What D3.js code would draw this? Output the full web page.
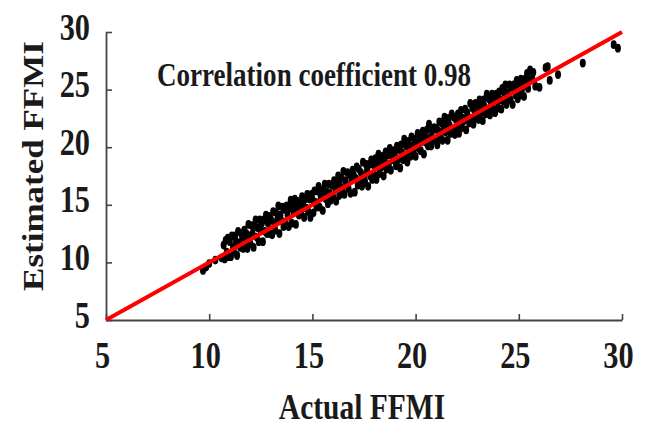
<!DOCTYPE html>
<html>
<head>
<meta charset="utf-8">
<script src="https://cdn.jsdelivr.net/npm/d3@7"></script>
<style>
  body { margin: 0; background: #fff; }
  svg text { font-family: "Liberation Serif", "Times New Roman", serif; font-weight: bold; fill: #1a1a1a; }
</style>
</head>
<body>
<div id="chart"></div>
<script>
// Axis ticks and labels
const xTicks = [5, 10, 15, 20, 25, 30];
const yTicks = [5, 10, 15, 20, 25, 30];
const xTitle = "Actual FFMI";
const yTitle = "Estimated FFMI";
const note = "Correlation coefficient 0.98";

// Identity line (estimated = actual)
const lineX = [5, 30];
const lineY = [5, 30];

// Scatter points
const actualFFMI = [
  9.70, 9.85, 10.00, 10.30, 10.60, 10.70, 10.75, 10.80, 10.85, 10.90, 10.95,
  11.00, 11.05, 11.10, 11.15, 11.20, 11.25, 11.30, 11.35, 11.40, 11.45, 11.50, 11.55, 11.60, 11.65, 11.70, 11.75, 11.80, 11.85, 11.90, 11.95,
  12.00, 12.05, 12.10, 12.15, 12.20, 12.25, 12.30, 12.35, 12.40, 12.45, 12.50, 12.55, 12.60, 12.65, 12.70, 12.75, 12.80, 12.85, 12.90, 12.95,
  13.00, 13.05, 13.10, 13.15, 13.20, 13.25, 13.30, 13.35, 13.40, 13.45, 13.50, 13.55, 13.60, 13.65, 13.70, 13.75, 13.80, 13.85, 13.90, 13.95,
  14.00, 14.05, 14.10, 14.15, 14.20, 14.25, 14.30, 14.35, 14.40, 14.45, 14.50, 14.55, 14.60, 14.65, 14.70, 14.75, 14.80, 14.85, 14.90, 14.95,
  15.00, 15.05, 15.10, 15.15, 15.20, 15.25, 15.30, 15.35, 15.40, 15.45, 15.50, 15.55, 15.60, 15.65, 15.70, 15.75, 15.80, 15.85, 15.90, 15.95,
  16.00, 16.05, 16.10, 16.15, 16.20, 16.25, 16.30, 16.35, 16.40, 16.45, 16.50, 16.55, 16.60, 16.65, 16.70, 16.75, 16.80, 16.85, 16.90, 16.95,
  17.00, 17.05, 17.10, 17.15, 17.20, 17.25, 17.30, 17.35, 17.40, 17.45, 17.50, 17.55, 17.60, 17.65, 17.70, 17.75, 17.80, 17.85, 17.90, 17.95,
  18.00, 18.05, 18.10, 18.15, 18.20, 18.25, 18.30, 18.35, 18.40, 18.45, 18.50, 18.55, 18.60, 18.65, 18.70, 18.75, 18.80, 18.85, 18.90, 18.95,
  19.00, 19.05, 19.10, 19.15, 19.20, 19.25, 19.30, 19.35, 19.40, 19.45, 19.50, 19.55, 19.60, 19.65, 19.70, 19.75, 19.80, 19.85, 19.90, 19.95,
  20.00, 20.05, 20.10, 20.15, 20.20, 20.25, 20.30, 20.35, 20.40, 20.45, 20.50, 20.55, 20.60, 20.65, 20.70, 20.75, 20.80, 20.85, 20.90, 20.95,
  21.00, 21.05, 21.10, 21.15, 21.20, 21.25, 21.30, 21.35, 21.40, 21.45, 21.50, 21.55, 21.60, 21.65, 21.70, 21.75, 21.80, 21.85, 21.90, 21.95,
  22.00, 22.05, 22.10, 22.15, 22.20, 22.25, 22.30, 22.35, 22.40, 22.45, 22.50, 22.55, 22.60, 22.65, 22.70, 22.75, 22.80, 22.85, 22.90, 22.95,
  23.00, 23.05, 23.10, 23.15, 23.20, 23.25, 23.30, 23.35, 23.40, 23.45, 23.50, 23.55, 23.60, 23.65, 23.70, 23.75, 23.80, 23.85, 23.90, 23.95,
  24.00, 24.05, 24.10, 24.15, 24.20, 24.25, 24.30, 24.35, 24.40, 24.45, 24.50, 24.55, 24.60, 24.65, 24.70, 24.75, 24.80, 24.85, 24.90, 24.95,
  25.00, 25.05, 25.10, 25.15, 25.20, 25.25, 25.30, 25.35, 25.40, 25.45,
  25.50, 25.55, 25.65, 25.70, 25.80, 26.00, 26.30, 26.40, 26.50, 26.90, 28.10, 29.60, 29.80
];
const estimatedFFMI = [
  9.3, 9.6, 9.9, 10.2, 10.4, 11.5, 10.3, 11.9, 10.9, 12.1, 10.5,
  11.8, 10.5, 12.3, 11.3, 10.9, 12.3, 11.8, 10.6, 12.7, 11.7, 11.3, 12.5, 12.2, 11.2, 12.8, 11.8, 12.5, 11.2, 13.3, 12.3,
  11.6, 13.2, 12.5, 11.3, 13.1, 13.7, 12.2, 13.0, 11.8, 13.7, 12.8, 13.4, 11.8, 13.7, 12.7, 14.1, 12.5, 13.4, 14.0, 12.5,
  13.7, 12.4, 14.4, 13.4, 12.8, 14.3, 13.7, 14.9, 12.5, 14.1, 13.6, 14.8, 13.1, 14.6, 13.5, 14.9, 14.1, 13.1, 14.7, 15.4,
  13.4, 15.0, 14.3, 15.5, 13.3, 14.8, 15.3, 14.1, 15.1, 14.4, 15.7, 15.0, 13.9, 15.5, 14.7, 15.9, 14.4, 15.5, 13.9, 15.9,
  15.5, 14.3, 16.2, 15.2, 14.8, 16.2, 16.6, 14.8, 15.7, 16.3, 14.5, 16.2, 16.8, 15.5, 16.1, 15.1, 16.8, 16.0, 15.4, 16.7,
  15.7, 17.1, 16.5, 15.3, 16.9, 17.5, 15.8, 16.6, 17.3, 16.4, 17.9, 15.9, 17.1, 16.7, 17.8, 16.4, 17.6, 16.0, 17.2, 18.0,
  17.6, 16.1, 17.3, 18.3, 16.7, 18.1, 17.1, 17.8, 16.6, 18.7, 17.5, 17.0, 18.5, 18.0, 16.6, 18.5, 17.5, 18.9, 17.2, 18.5,
  17.6, 19.0, 17.2, 18.5, 19.4, 17.7, 18.8, 18.3, 19.2, 17.5, 18.7, 19.6, 18.1, 19.3, 18.5, 19.9, 18.0, 19.3, 18.9, 19.7,
  19.3, 18.4, 20.1, 18.9, 19.8, 18.2, 20.2, 19.5, 18.9, 20.7, 19.3, 20.1, 18.7, 20.5, 19.7, 19.2, 20.9, 20.1, 19.5, 20.7,
  19.2, 20.5, 21.2, 19.9, 20.9, 19.7, 20.5, 21.4, 19.4, 21.0, 20.4, 21.5, 20.1, 22.0, 20.8, 20.1, 21.4, 20.7, 21.7, 20.6,
  21.6, 20.2, 21.4, 22.2, 20.8, 22.1, 20.6, 21.5, 22.6, 21.3, 22.0, 20.6, 22.5, 21.9, 21.2, 22.9, 21.5, 22.6, 21.1, 22.4,
  21.7, 22.9, 21.2, 22.6, 23.2, 21.7, 22.5, 22.3, 23.3, 21.5, 23.0, 22.6, 22.1, 23.8, 22.5, 23.4, 22.0, 23.2, 23.8, 22.6,
  23.5, 22.4, 24.1, 23.0, 23.5, 22.3, 24.1, 23.5, 22.9, 24.6, 23.2, 24.2, 22.8, 23.9, 24.6, 23.4, 24.2, 23.0, 24.6, 24.0,
  23.4, 24.8, 24.1, 23.3, 25.1, 24.0, 24.7, 25.4, 23.7, 24.7, 24.3, 25.4, 24.1, 25.2, 23.7, 25.4, 24.9, 24.5, 25.8, 24.2,
  25.3, 24.5, 25.9, 25.0, 25.7, 24.4, 25.9, 25.4, 26.4, 25.1,
  25.8, 26.7, 26.0, 26.5, 25.3, 25.2, 26.9, 27.0, 25.8, 26.3, 27.3, 28.9, 28.6
];

const width = 647;
const height = 429;
const margin = { top: 32, right: 25, bottom: 109, left: 106 };
const squeeze = 0.82; // text in the picture is narrower than it is tall

const svg = d3.select("#chart").append("svg")
    .attr("width", width)
    .attr("height", height);

const x = d3.scaleLinear()
    .domain([5, 30])
    .range([margin.left, width - margin.right]);

const y = d3.scaleLinear()
    .domain([5, 30])
    .range([height - margin.bottom, margin.top]);

// Axes
const xAxis = svg.append("g")
    .attr("transform", `translate(0, ${height - margin.bottom})`)
    .call(d3.axisBottom(x).tickValues(xTicks).tickSizeInner(-6).tickSizeOuter(0));

const yAxis = svg.append("g")
    .attr("transform", `translate(${margin.left}, 0)`)
    .call(d3.axisLeft(y).tickValues(yTicks).tickSizeInner(-6).tickSizeOuter(0));

[xAxis, yAxis].forEach(g => {
    g.select(".domain").attr("stroke", "#444").attr("stroke-width", 1.8);
    g.selectAll(".tick line").attr("stroke", "#444").attr("stroke-width", 1.6);
    g.selectAll(".tick text")
        .attr("fill", "#1a1a1a")
        .style("font-size", "37px")
        .attr("dy", null);
});

xAxis.selectAll(".tick text")
    .attr("y", 48)
    .attr("x", -4 / squeeze)
    .attr("transform", `scale(${squeeze},1)`);

yAxis.selectAll(".tick text")
    .attr("y", 7)
    .attr("x", -16 / squeeze)
    .attr("transform", `scale(${squeeze},1)`);

// Points
const points = actualFFMI.map((a, i) => ({ a, e: estimatedFFMI[i] }));

svg.append("g")
    .selectAll("ellipse")
    .data(points)
    .join("ellipse")
    .attr("cx", d => x(d.a))
    .attr("cy", d => y(d.e))
    .attr("rx", 3)
    .attr("ry", 4.4)
    .attr("fill", "#000");

// Red identity line on top
svg.append("path")
    .datum(lineX.map((v, i) => [v, lineY[i]]))
    .attr("fill", "none")
    .attr("stroke", "#ff0000")
    .attr("stroke-width", 4)
    .attr("d", d3.line().x(d => x(d[0])).y(d => y(d[1])));

// Annotation
svg.append("text")
    .attr("transform", `translate(157, 86) scale(${squeeze},1)`)
    .style("font-size", "33px")
    .text(note);

// Axis titles
svg.append("text")
    .attr("transform", `translate(362, 419) scale(${squeeze},1)`)
    .attr("text-anchor", "middle")
    .style("font-size", "36px")
    .text(xTitle);

svg.append("text")
    .attr("transform", `translate(43, 166) scale(${squeeze},1) rotate(-90)`)
    .attr("text-anchor", "middle")
    .style("font-size", "35px")
    .text(yTitle);
</script>
</body>
</html>
